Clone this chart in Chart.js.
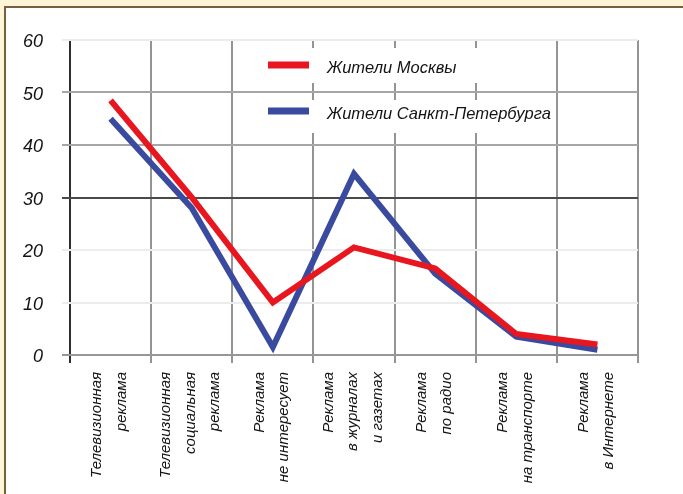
<!DOCTYPE html>
<html>
<head>
<meta charset="utf-8">
<script src="https://cdn.jsdelivr.net/npm/chart.js@4"></script>
<style>
  html, body { margin: 0; padding: 0; background: #fdf6d6; }
  body { width: 683px; height: 494px; overflow: hidden; position: relative; }
  #frame {
    position: absolute; left: 4px; top: 6px; width: 679px; height: 488px;
    box-sizing: border-box; background: #fff;
    border-left: 2px solid #7a5f3e; border-top: 2px solid #7a5f3e;
  }
  #wrap { position: absolute; left: 0; top: 0; width: 677px; height: 486px; }
</style>
</head>
<body>
<div id="frame"><div id="wrap"><canvas id="chart"></canvas></div></div>
<script>
const categories = [
  ['Телевизионная', 'реклама'],
  ['Телевизионная', 'социальная', 'реклама'],
  ['Реклама', 'не интересует'],
  ['Реклама', 'в журналах', 'и газетах'],
  ['Реклама', 'по радио'],
  ['Реклама', 'на транспорте'],
  ['Реклама', 'в Интернете']
];
const moscow = [48.5, 30, 10, 20.5, 16.5, 4, 2];
const spb = [45, 28, 1.5, 34.5, 15.5, 3.5, 1];
const seriesNames = ['Жители Москвы', 'Жители Санкт-Петербурга'];
const yTicks = [0, 10, 20, 30, 40, 50, 60];

const RED = '#e8161e';
const BLUE = '#3a4b9f';
const TEXT = '#141414';
const FONT = '"Liberation Sans", Arial, sans-serif';

// цвет горизонтальных линий сетки по значению
function yGridColor(v) {
  if (v === 30) return '#4a4a4a';
  if (v === 40 || v === 50) return '#a6a6a6';
  if (v === 0) return '#979797';
  return '#ececec';
}

const labelsPlugin = {
  id: 'rotatedLabels',
  afterDraw(chart) {
    const ctx = chart.ctx;
    const xs = chart.scales.x;
    ctx.save();
    ctx.fillStyle = TEXT;
    ctx.font = 'italic 15px ' + FONT;
    categories.forEach((lines, i) => {
      const px = xs.getPixelForValue(i);
      const n = lines.length;
      lines.forEach((t, j) => {
        ctx.save();
        ctx.translate(px + (j - (n - 1) / 2) * 24.5 - 1, chart.chartArea.bottom + 17);
        ctx.rotate(-Math.PI / 2);
        ctx.textAlign = 'right';
        ctx.textBaseline = 'middle';
        ctx.fillText(t, 0, 0);
        ctx.restore();
      });
    });

    // легенда
    const rows = [
      { name: seriesNames[0], color: RED, top: 40, bottom: 75, y: 57 },
      { name: seriesNames[1], color: BLUE, top: 92, bottom: 125, y: 103 }
    ];
    rows.forEach(r => {
      ctx.fillStyle = '#fff';
      ctx.fillRect(239, r.top, 305, r.bottom - r.top);
      ctx.fillStyle = r.color;
      ctx.fillRect(262, r.y - 3.5, 41, 7);
      ctx.fillStyle = TEXT;
      ctx.font = 'italic 16.5px ' + FONT;
      ctx.textAlign = 'left';
      ctx.textBaseline = 'middle';
      ctx.fillText(r.name, 321, r.y + 3);
    });
    ctx.restore();
  }
};

new Chart(document.getElementById('chart'), {
  type: 'line',
  data: {
    labels: categories.map(c => c.join(' ')),
    datasets: [
      { label: seriesNames[0], data: moscow, borderColor: RED, borderWidth: 6, pointRadius: 0, tension: 0, borderJoinStyle: 'miter' },
      { label: seriesNames[1], data: spb, borderColor: BLUE, borderWidth: 6, pointRadius: 0, tension: 0, borderJoinStyle: 'miter' }
    ]
  },
  options: {
    responsive: true,
    maintainAspectRatio: false,
    animation: false,
    events: [],
    layout: { padding: { top: 32, right: 45, left: 0, bottom: 0 } },
    plugins: { legend: { display: false }, tooltip: { enabled: false } },
    scales: {
      x: {
        offset: true,
        grid: {
          offset: true,
          lineWidth: 2,
          tickLength: 8,
          color: c => (c.index === 0 ? '#2e2e2e' : '#949494')
        },
        border: { display: false },
        ticks: { display: false },
        afterFit(scale) { scale.height = 139; }
      },
      y: {
        min: 0,
        max: 60,
        afterBuildTicks(scale) { scale.ticks = yTicks.map(v => ({ value: v })); },
        grid: {
          lineWidth: 2,
          tickLength: 8,
          color: c => yGridColor(c.tick ? c.tick.value : -1)
        },
        border: { display: false },
        ticks: {
          color: TEXT,
          padding: 19,
          labelOffset: 2,
          font: { family: FONT, size: 18, style: 'italic' }
        },
        afterFit(scale) { scale.width = 64; }
      }
    }
  },
  plugins: [labelsPlugin]
});
</script>
</body>
</html>
